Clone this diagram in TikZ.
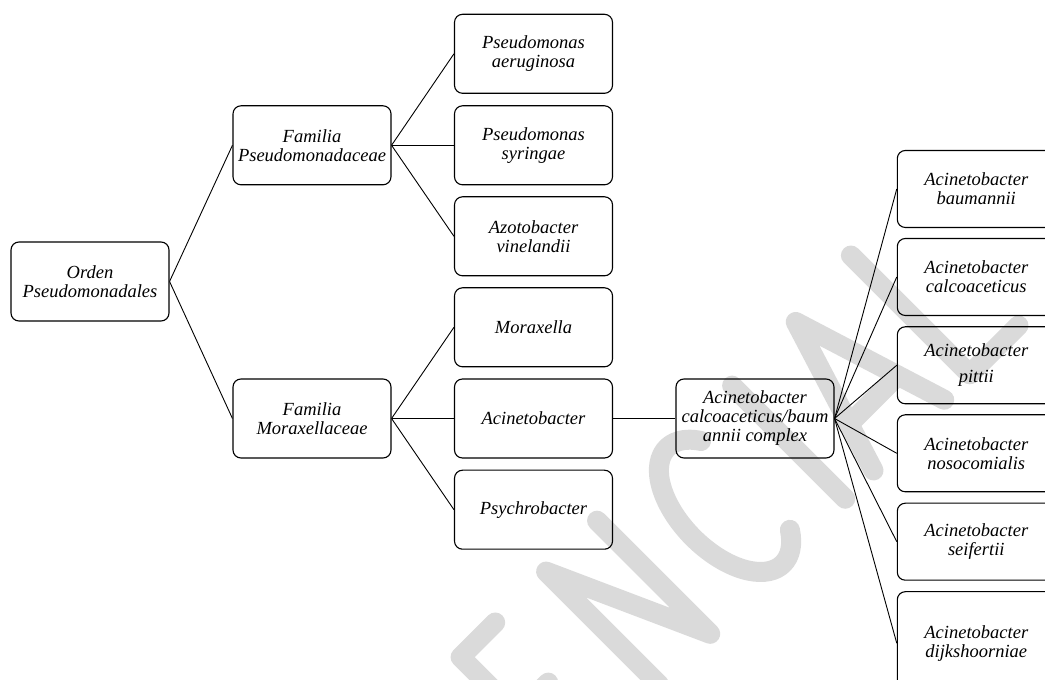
\documentclass[tikz,border=0pt]{standalone}
\usepackage{fontspec}
\setmainfont{Liberation Serif}
\definecolor{wmgray}{RGB}{218,218,218}
\begin{document}
\begin{tikzpicture}[x=1pt,y=1pt,
  box/.style={draw, line width=1.1pt, rounded corners=8pt, minimum width=158pt,
    minimum height=79pt, align=center, inner sep=0pt,
    font=\fontsize{18.5}{19}\selectfont\itshape},
  rbox/.style={box, minimum height=77pt},
  link/.style={line width=0.9pt},
  wm/.style={line width=20pt, line cap=round, line join=round, draw=wmgray}]
\clip (0,0) rectangle (1045,680);
% watermark
\begin{scope}[shift={(672,8)}, rotate=45, wm]
  \draw (-139,0) -- (-139,160) -- (-90,160);
  \draw (-139,80) -- (-95,80);
  \draw (-139,0) -- (-90,0);
  \draw (-18,0) -- (-18,160) -- (54,0) -- (54,160);
  \draw (183.9,142.8) arc[start angle=50, end angle=310, x radius=45, y radius=82];
  \draw (245,0) -- (245,160);
  \draw (285,0) -- (335,160) -- (385,0);
  \draw (301,50) -- (369,50);
  \draw (421,168) -- (421,0) -- (490,0);
\end{scope}
% nodes
\node[box] (orden) at (90,398.5) {Orden\\Pseudomonadales};
\node[box] (fpse) at (312,534.7) {Familia\\Pseudomonadaceae};
\node[box] (fmor) at (312,261.5) {Familia\\Moraxellaceae};
\node[box] (paer) at (533.5,626.2) {Pseudomonas\\aeruginosa};
\node[box] (psyr) at (533.5,534.7) {Pseudomonas\\syringae};
\node[box] (avin) at (533.5,443.7) {Azotobacter\\vinelandii};
\node[box] (mor) at (533.5,352.7) {Moraxella};
\node[box] (aci) at (533.5,261.5) {Acinetobacter};
\node[box] (psy) at (533.5,170.3) {Psychrobacter};
\node[box] (cplx) at (755,261.5) {Acinetobacter\\calcoaceticus/baum\\annii complex};
\node[rbox] (ab) at (976.3,491) {Acinetobacter\\baumannii};
\node[rbox] (ac) at (976.3,403) {Acinetobacter\\calcoaceticus};
\node[rbox] (ap) at (976.3,314.7) {Acinetobacter\\[7pt]pittii};
\node[rbox] (an) at (976.3,226.7) {Acinetobacter\\nosocomialis};
\node[rbox] (as) at (976.3,138.3) {Acinetobacter\\seifertii};
\node[rbox, minimum height=103pt] (ad) at (976.3,36.8) {Acinetobacter\\dijkshoorniae};
% connectors
\draw[link] (orden.east) -- (fpse.west);
\draw[link] (orden.east) -- (fmor.west);
\draw[link] (fpse.east) -- (paer.west);
\draw[link] (fpse.east) -- (psyr.west);
\draw[link] (fpse.east) -- (avin.west);
\draw[link] (fmor.east) -- (mor.west);
\draw[link] (fmor.east) -- (aci.west);
\draw[link] (fmor.east) -- (psy.west);
\draw[link] (aci.east) -- (cplx.west);
\foreach \t in {ab,ac,ap,an,as,ad}
  \draw[link] (cplx.east) -- (\t.west);
\end{tikzpicture}
\end{document}
